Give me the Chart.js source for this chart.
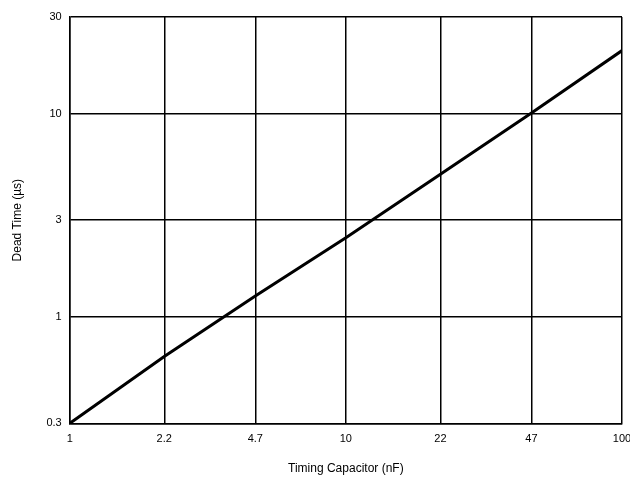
<!DOCTYPE html>
<html>
<head>
<meta charset="utf-8">
<script src="https://cdn.jsdelivr.net/npm/chart.js@4.4.0/dist/chart.umd.min.js"></script>
<style>
  html,body{margin:0;padding:0;background:#fff;}
  #wrap{width:630px;height:492px;position:relative;}
</style>
</head>
<body>
<div id="wrap"><canvas id="c" width="630" height="492"></canvas></div>
<script>
// Data (log-log)
const capNF   = [1, 2.2, 4.7, 10, 22, 47, 100];
const deadUs  = [0.3, 0.64, 1.27, 2.46, 5.05, 10.1, 20.5];
const xTicks  = [1, 2.2, 4.7, 10, 22, 47, 100];
const yTicks  = [0.3, 1, 3, 10, 30];

const pts = capNF.map((x,i)=>({x, y:deadUs[i]}));
const font = {family:'"Liberation Sans", Arial, sans-serif', size:11};

new Chart(document.getElementById('c'), {
  type:'line',
  data:{datasets:[{data:pts,borderColor:'#000',borderWidth:3,pointRadius:0,tension:0,fill:false}]},
  options:{
    responsive:false,animation:false,
    layout:{padding:{left:6,right:0,top:17,bottom:12}},
    plugins:{legend:{display:false},tooltip:{enabled:false}},
    scales:{
      x:{type:'logarithmic',min:1,max:100,
        afterBuildTicks:ax=>{ax.ticks=xTicks.map(v=>({value:v}));},
        afterFit:s=>{s.paddingRight=8;},
        ticks:{color:'#000',font,padding:9,maxRotation:0,autoSkip:false,callback:v=>String(v)},
        grid:{color:'#000',lineWidth:1.5,drawTicks:false},
        border:{color:'#000',width:1.5},
        title:{display:true,text:'Timing Capacitor (nF)',color:'#000',font:{...font,size:12},padding:{top:7}}
      },
      y:{type:'logarithmic',min:0.3,max:30,
        afterBuildTicks:ax=>{ax.ticks=yTicks.map(v=>({value:v}));},
        afterFit:s=>{s.paddingTop=0;},
        ticks:{color:'#000',font,padding:8,autoSkip:false,callback:v=>String(v)},
        grid:{color:'#000',lineWidth:1.5,drawTicks:false},
        border:{color:'#000',width:1.5},
        title:{display:true,text:'Dead Time (µs)',color:'#000',font:{...font,size:12},padding:{bottom:14}}
      }
    }
  }
});
</script>
</body>
</html>
